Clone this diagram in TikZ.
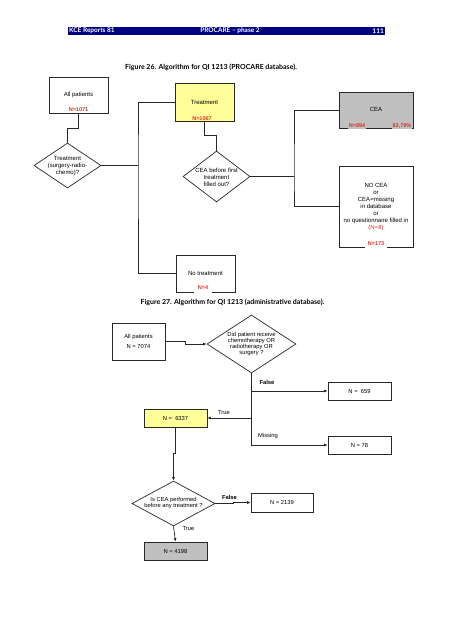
\documentclass[tikz,border=0pt]{standalone}
\usepackage{fontspec}
\setmainfont{Liberation Sans}
\newfontfamily\capfont{Lato}
\usetikzlibrary{arrows.meta,shapes.geometric}
\definecolor{navy}{RGB}{0,0,128}
\definecolor{boxyellow}{RGB}{255,255,153}
\definecolor{boxgray}{RGB}{192,192,192}
\definecolor{nred}{RGB}{214,54,40}
\definecolor{linegray}{RGB}{40,40,40}
\begin{document}
\begin{tikzpicture}[x=1pt,y=-1pt,
  box/.style={draw=linegray, line width=0.7pt, inner sep=0pt, align=center,
    font=\fontsize{6}{7}\selectfont},
  box2/.style={box, font=\fontsize{5.8}{6.6}\selectfont},
  dia/.style={draw=linegray, shape=diamond, inner sep=0pt, line width=0.7pt},
  dtext/.style={align=center, inner sep=0pt, font=\fontsize{6}{7}\selectfont},
  dtext2/.style={align=center, inner sep=0pt, font=\fontsize{5.8}{6.3}\selectfont},
  nlab/.style={text=nred, font=\bfseries\fontsize{5.5}{6}\selectfont, inner sep=0.6pt},
  conn/.style={draw=linegray, line width=0.7pt},
  arr/.style={conn, -{Latex[length=3.5pt,width=3pt]}},
  elab/.style={inner sep=0pt, font=\fontsize{5.8}{6.5}\selectfont},
  hdr/.style={text=white, inner sep=0pt, font=\capfont\bfseries\fontsize{6.5}{7}\selectfont},
  capt/.style={inner sep=0pt, font=\capfont\bfseries\fontsize{7}{8}\selectfont}
]
\fill[white] (0,0) rectangle (452,640);
\useasboundingbox (0,0) rectangle (452,640);

% header
\fill[navy] (68,27) rectangle (385,35);
\node[hdr, anchor=west] (h1) at (69,31) {KCE Reports 81};
\node[hdr] (h2) at (230,31) {PROCARE – phase 2};
\node[hdr, anchor=east] (h3) at (384,31) {111};

% Figure 26
\node[capt] (cap26) at (211,67) {Figure 26. Algorithm for QI 1213 (PROCARE database).};

\node[box, minimum width=59pt, minimum height=36pt] (ap1) at (78.5,95) {};
\node[dtext] (ap1t) at (78.5,95) {All patients};
\node[nlab, fill=white] (n1071) at (78.5,110) {N=1071};

\node[dia, minimum width=67pt, minimum height=45pt] (d1) at (67.5,165.5) {};
\node[dtext] (d1t) at (67.5,166) {Treatment\\(surgery-radio-\\chemo)?};

\node[box, fill=boxyellow, minimum width=59pt, minimum height=38pt] (tr) at (204.5,102) {};
\node[dtext] (trt) at (204.5,102) {Treatment};
\node[nlab, fill=boxyellow] (n1067) at (202,118.5) {N=1067};

\node[dia, minimum width=67pt, minimum height=51pt] (d2) at (216.5,176.5) {};
\node[dtext] (d2t) at (216.5,177) {CEA before first\\treatment\\filled out?};

\node[box, fill=boxgray, minimum width=74pt, minimum height=36pt] (cea) at (376,110) {};
\node[dtext] (ceat) at (376,109) {CEA};
\node[nlab, fill=boxgray] (n894) at (357,126) {N=894};
\node[nlab, fill=boxgray] (pct) at (402,126) {83,79\%};

\node[box, minimum width=74pt, minimum height=81pt] (nocea) at (376,206.5) {};
\node[dtext] (noceat) at (376,207) {NO CEA\\or\\CEA=missing\\in database\\or\\no questionnaire filled in\\\textcolor{nred}{(N=8)}};
\node[nlab, fill=white, minimum height=7pt, inner xsep=3pt] (n173) at (376,244) {N=173};

\node[box, minimum width=59pt, minimum height=37pt] (nt) at (205.5,273.5) {};
\node[dtext] (ntt) at (205.5,273) {No treatment};
\node[nlab, fill=white, minimum height=9pt, inner xsep=4pt] (n4) at (203,288) {N=4};

\coordinate (j1) at (138,165.5);
\coordinate (j2) at (294,176.5);
\draw[conn] (ap1.south) -- ++(0,15) -| (d1.north);
\draw[conn] (d1.east) -- (j1);
\draw[conn] (tr.west) -| (j1) |- (nt.west);
\draw[conn] (tr.south) -- ++(0,14) -| (d2.north);
\draw[conn] (d2.east) -- (j2);
\draw[conn] (cea.west) -| (j2) |- (nocea.west);

% Figure 27
\node[capt] (cap27) at (232.5,302) {Figure 27. Algorithm for QI 1213 (administrative database).};

\node[box2, minimum width=53pt, minimum height=37pt] (ap2) at (138.5,341.5) {All patients\\[3pt]N = 7074};

\node[dia, minimum width=89pt, minimum height=58pt] (d3) at (251.5,344) {};
\node[dtext2] (d3t) at (251.5,344) {Did patient receive\\chemotherapy OR\\radiotherapy OR\\surgery ?};

\node[box2, minimum width=63pt, minimum height=18pt] (n659) at (359.5,391) {N = \ 659};
\node[box2, minimum width=63pt, minimum height=18pt] (n78) at (359.5,445) {N = 78};
\node[box2, fill=boxyellow, minimum width=63pt, minimum height=18pt] (n6337) at (175.5,418) {N = \ 6337};

\node[dia, minimum width=83pt, minimum height=45pt] (d4) at (173.5,503.5) {};
\node[dtext2] (d4t) at (173.5,503) {Is CEA performed\\before any treatment ?};

\node[box2, minimum width=62pt, minimum height=19pt] (n2139) at (282,502.5) {N = 2139};
\node[box2, fill=boxgray, minimum width=63pt, minimum height=18pt] (n4198) at (175.5,551) {N = 4198};

\draw[arr] (ap2.east) -- ++(20,0) |- (d3.west);
\draw[arr] (d3.south) |- (n78.west);
\draw[arr] (d3.south |- n659.west) -- (n659.west);
\draw[arr] (d3.south |- n6337.east) -- (n6337.east);
\draw[arr] (n6337.south) -- ++(0,26) -| (d4.north);
\draw[arr] (d4.east) -- ++(18,0) |- (n2139.west);
\draw[arr] (d4.south) -- (n4198.north);

\node[elab, font=\bfseries\fontsize{5.8}{6.5}\selectfont] (lf1) at (267,382) {False};
\node[elab] (lt1) at (224,413) {True};
\node[elab] (lm) at (268,436) {Missing};
\node[elab, font=\bfseries\fontsize{5.8}{6.5}\selectfont] (lf2) at (229.5,497) {False};
\node[elab] (lt2) at (188.5,529) {True};
\end{tikzpicture}
\end{document}
